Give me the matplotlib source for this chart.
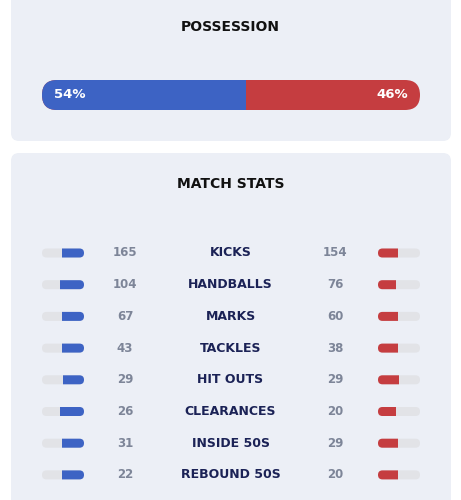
import matplotlib.pyplot as plt
from matplotlib.patches import FancyBboxPatch, Rectangle

# -------------------------------------
# Data
# -------------------------------------

possession_home = 54
possession_away = 46

stats = ["KICKS", "HANDBALLS", "MARKS", "TACKLES", "HIT OUTS",
         "CLEARANCES", "INSIDE 50S", "REBOUND 50S"]
home = [165, 104, 67, 43, 29, 26, 31, 22]
away = [154, 76, 60, 38, 29, 20, 29, 20]

BLUE = "#3d63c4"
RED = "#c53d40"
CARD = "#eceff6"
TRACK = "#e2e3e7"
NUM = "#7d8598"
LABEL = "#1b2256"

plt.rcParams["font.family"] = ["DejaVu Sans"]

fig = plt.figure(figsize=(4.61, 5.0), dpi=100)
fig.patch.set_facecolor("white")
ax = fig.add_axes([0, 0, 1, 1])
ax.set_xlim(0, 461)
ax.set_ylim(500, 0)
ax.axis("off")


def rbox(x, y, w, h, r, color, z=1):
    p = FancyBboxPatch((x + r, y + r), w - 2 * r, h - 2 * r,
                       boxstyle=f"round,pad={r},rounding_size={r}",
                       fc=color, ec="none", zorder=z)
    ax.add_patch(p)
    return p


# cards
rbox(11, -20, 440, 161, 8, CARD, 0)
rbox(11, 153, 440, 370, 8, CARD, 0)

# -------------------------------------
# Possession
# -------------------------------------

ax.text(230.5, 27, "POSSESSION", ha="center", va="center",
        fontsize=10, fontweight="bold", color="#111111")

bx, by, bw, bh = 42, 80, 378, 30
rbox(bx, by, bw, bh, 15, RED, 2)
blue = rbox(bx, by, bw, bh, 15, BLUE, 3)
split = bx + bw * possession_home / (possession_home + possession_away)
clip = Rectangle((bx, by), split - bx, bh, transform=ax.transData)
blue.set_clip_path(clip)

ax.text(bx + 12, by + bh / 2, f"{possession_home}%", ha="left", va="center",
        fontsize=9.5, fontweight="bold", color="white", zorder=4)
ax.text(bx + bw - 12, by + bh / 2, f"{possession_away}%", ha="right",
        va="center", fontsize=9.5, fontweight="bold", color="white", zorder=4)

# -------------------------------------
# Match stats
# -------------------------------------

ax.text(230.5, 184, "MATCH STATS", ha="center", va="center",
        fontsize=10, fontweight="bold", color="#111111")

tw, th = 42, 9
lx, rx = 42, 378
y0, dy = 253, 31.7

for i, (s, h, a) in enumerate(zip(stats, home, away)):
    y = y0 + i * dy
    tot = h + a

    # left track + blue fill anchored to the right
    rbox(lx, y - th / 2, tw, th, th / 2, TRACK, 2)
    f = rbox(lx, y - th / 2, tw, th, th / 2, BLUE, 3)
    fw = tw * h / tot
    f.set_clip_path(Rectangle((lx + tw - fw, y - th), fw, 2 * th,
                              transform=ax.transData))

    # right track + red fill anchored to the left
    rbox(rx, y - th / 2, tw, th, th / 2, TRACK, 2)
    f = rbox(rx, y - th / 2, tw, th, th / 2, RED, 3)
    fw = tw * a / tot
    f.set_clip_path(Rectangle((rx, y - th), fw, 2 * th,
                              transform=ax.transData))

    ax.text(125, y, str(h), ha="center", va="center", fontsize=8.5,
            fontweight="bold", color=NUM)
    ax.text(335, y, str(a), ha="center", va="center", fontsize=8.5,
            fontweight="bold", color=NUM)
    ax.text(230.5, y, s, ha="center", va="center", fontsize=9,
            fontweight="bold", color=LABEL)

fig.savefig("out.png", dpi=100, facecolor="white")
